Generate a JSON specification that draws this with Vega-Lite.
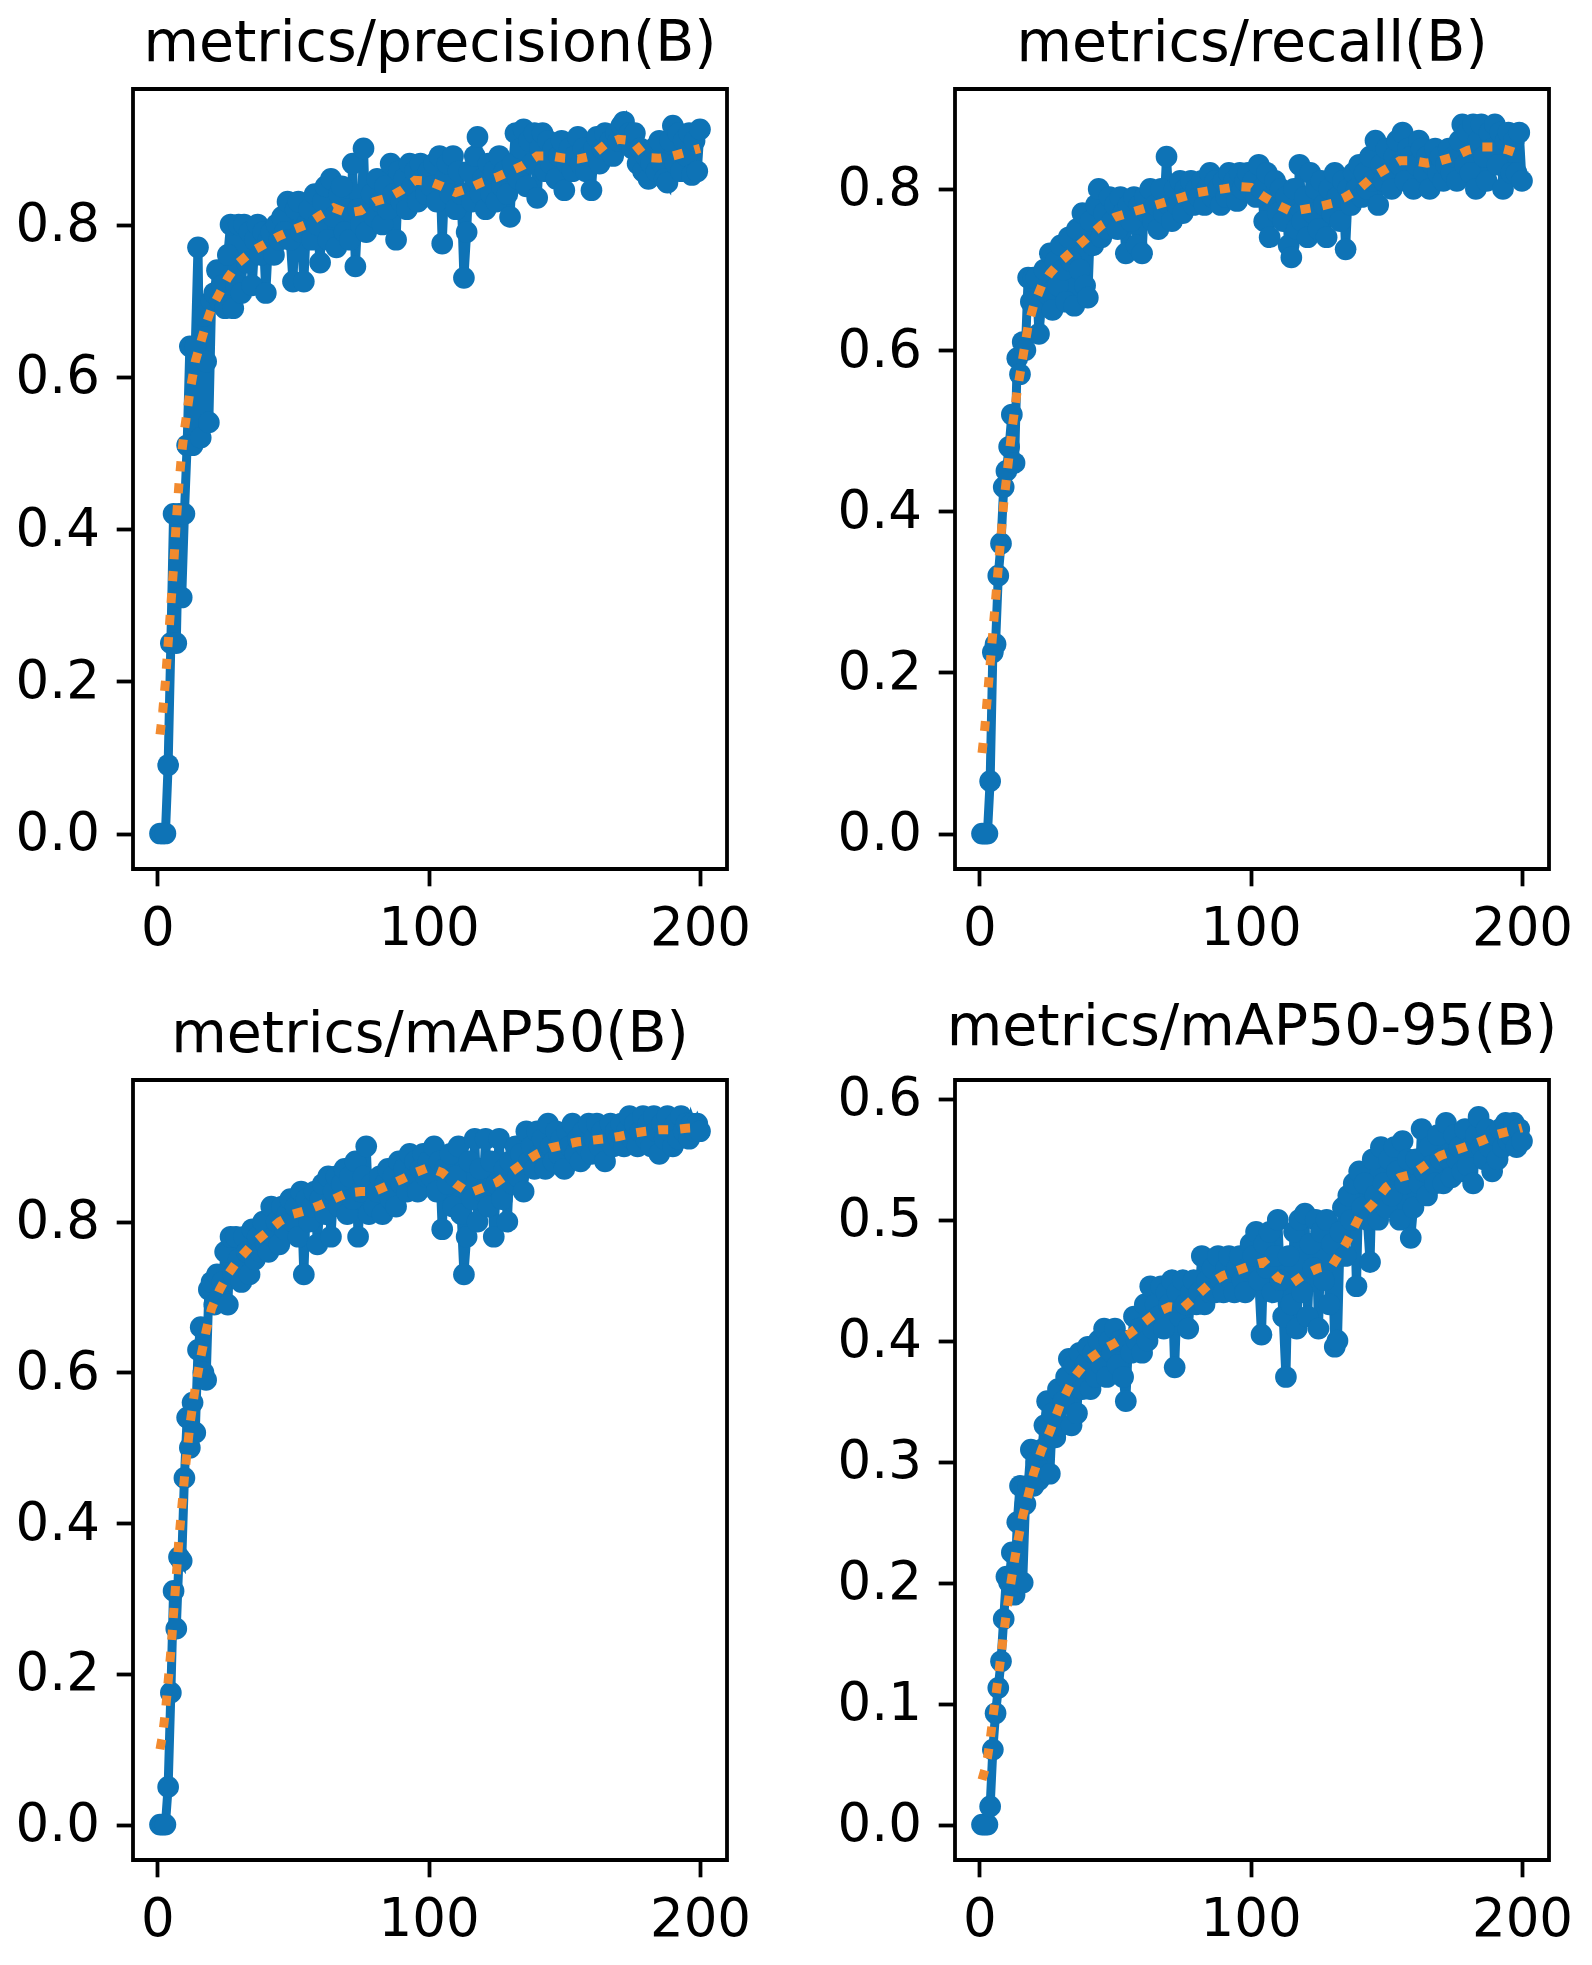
{
  "$schema": "https://vega.github.io/schema/vega-lite/v6.json",
  "description": "Training metrics (precision, recall, mAP50, mAP50-95) per epoch with smoothed curve",
  "padding": {"left": 13, "top": 13, "right": 5, "bottom": 5},
  "columns": 2,
  "spacing": {"row": 211, "column": 228},
  "bounds": "flush",
  "resolve": {"scale": {"x": "independent", "y": "independent"}},
  "datasets": {
    "res": [
      {"e":1,"p":0,"r":0,"a":0,"b":0},
      {"e":2,"p":0,"r":0,"a":0,"b":0},
      {"e":3,"p":0,"r":0,"a":0,"b":0},
      {"e":4,"p":0.09,"r":0.065,"a":0.05,"b":0.015},
      {"e":5,"p":0.25,"r":0.225,"a":0.175,"b":0.062},
      {"e":6,"p":0.42,"r":0.235,"a":0.31,"b":0.092},
      {"e":7,"p":0.25,"r":0.32,"a":0.26,"b":0.113},
      {"e":8,"p":0.42,"r":0.36,"a":0.355,"b":0.135},
      {"e":9,"p":0.31,"r":0.43,"a":0.35,"b":0.17},
      {"e":10,"p":0.42,"r":0.45,"a":0.46,"b":0.205},
      {"e":11,"p":0.51,"r":0.48,"a":0.54,"b":0.2},
      {"e":12,"p":0.64,"r":0.52,"a":0.5,"b":0.225},
      {"e":13,"p":0.51,"r":0.46,"a":0.56,"b":0.19},
      {"e":14,"p":0.64,"r":0.59,"a":0.52,"b":0.25},
      {"e":15,"p":0.77,"r":0.57,"a":0.63,"b":0.28},
      {"e":16,"p":0.52,"r":0.61,"a":0.66,"b":0.2},
      {"e":17,"p":0.68,"r":0.6,"a":0.6,"b":0.265},
      {"e":18,"p":0.62,"r":0.69,"a":0.59,"b":0.28},
      {"e":19,"p":0.54,"r":0.66,"a":0.71,"b":0.31},
      {"e":20,"p":0.7,"r":0.69,"a":0.72,"b":0.28},
      {"e":21,"p":0.71,"r":0.69,"a":0.69,"b":0.3},
      {"e":22,"p":0.74,"r":0.62,"a":0.73,"b":0.285},
      {"e":23,"p":0.7,"r":0.66,"a":0.7,"b":0.31},
      {"e":24,"p":0.72,"r":0.7,"a":0.72,"b":0.33},
      {"e":25,"p":0.69,"r":0.67,"a":0.76,"b":0.35},
      {"e":26,"p":0.76,"r":0.72,"a":0.69,"b":0.29},
      {"e":27,"p":0.8,"r":0.65,"a":0.78,"b":0.34},
      {"e":28,"p":0.69,"r":0.71,"a":0.73,"b":0.32},
      {"e":29,"p":0.72,"r":0.68,"a":0.78,"b":0.36},
      {"e":30,"p":0.8,"r":0.73,"a":0.75,"b":0.33},
      {"e":31,"p":0.71,"r":0.7,"a":0.72,"b":0.35},
      {"e":32,"p":0.8,"r":0.66,"a":0.78,"b":0.37},
      {"e":33,"p":0.75,"r":0.74,"a":0.76,"b":0.385},
      {"e":34,"p":0.79,"r":0.71,"a":0.73,"b":0.33},
      {"e":35,"p":0.72,"r":0.655,"a":0.79,"b":0.38},
      {"e":36,"p":0.78,"r":0.75,"a":0.75,"b":0.34},
      {"e":37,"p":0.8,"r":0.7,"a":0.78,"b":0.39},
      {"e":38,"p":0.76,"r":0.77,"a":0.76,"b":0.36},
      {"e":39,"p":0.79,"r":0.68,"a":0.8,"b":0.38},
      {"e":40,"p":0.71,"r":0.665,"a":0.77,"b":0.395},
      {"e":41,"p":0.78,"r":0.76,"a":0.76,"b":0.36},
      {"e":42,"p":0.79,"r":0.73,"a":0.82,"b":0.39},
      {"e":43,"p":0.76,"r":0.78,"a":0.78,"b":0.37},
      {"e":44,"p":0.8,"r":0.8,"a":0.8,"b":0.4},
      {"e":45,"p":0.78,"r":0.74,"a":0.77,"b":0.38},
      {"e":46,"p":0.81,"r":0.77,"a":0.82,"b":0.41},
      {"e":47,"p":0.79,"r":0.75,"a":0.79,"b":0.37},
      {"e":48,"p":0.83,"r":0.79,"a":0.81,"b":0.4},
      {"e":49,"p":0.78,"r":0.76,"a":0.83,"b":0.39},
      {"e":50,"p":0.725,"r":0.78,"a":0.8,"b":0.41},
      {"e":51,"p":0.82,"r":0.75,"a":0.82,"b":0.38},
      {"e":52,"p":0.83,"r":0.79,"a":0.78,"b":0.4},
      {"e":53,"p":0.79,"r":0.77,"a":0.84,"b":0.37},
      {"e":54,"p":0.725,"r":0.72,"a":0.73,"b":0.35},
      {"e":55,"p":0.8,"r":0.78,"a":0.83,"b":0.4},
      {"e":56,"p":0.82,"r":0.76,"a":0.8,"b":0.39},
      {"e":57,"p":0.78,"r":0.79,"a":0.82,"b":0.42},
      {"e":58,"p":0.84,"r":0.73,"a":0.84,"b":0.4},
      {"e":59,"p":0.8,"r":0.78,"a":0.77,"b":0.41},
      {"e":60,"p":0.75,"r":0.72,"a":0.83,"b":0.39},
      {"e":61,"p":0.83,"r":0.79,"a":0.85,"b":0.43},
      {"e":62,"p":0.85,"r":0.77,"a":0.81,"b":0.4},
      {"e":63,"p":0.78,"r":0.8,"a":0.86,"b":0.445},
      {"e":64,"p":0.86,"r":0.76,"a":0.78,"b":0.41},
      {"e":65,"p":0.81,"r":0.78,"a":0.84,"b":0.43},
      {"e":66,"p":0.77,"r":0.75,"a":0.86,"b":0.42},
      {"e":67,"p":0.84,"r":0.8,"a":0.82,"b":0.445},
      {"e":68,"p":0.85,"r":0.77,"a":0.85,"b":0.41},
      {"e":69,"p":0.79,"r":0.84,"a":0.87,"b":0.44},
      {"e":70,"p":0.82,"r":0.78,"a":0.81,"b":0.43},
      {"e":71,"p":0.78,"r":0.76,"a":0.86,"b":0.45},
      {"e":72,"p":0.88,"r":0.8,"a":0.83,"b":0.378},
      {"e":73,"p":0.745,"r":0.78,"a":0.88,"b":0.44},
      {"e":74,"p":0.82,"r":0.81,"a":0.78,"b":0.42},
      {"e":75,"p":0.8,"r":0.77,"a":0.84,"b":0.45},
      {"e":76,"p":0.9,"r":0.8,"a":0.86,"b":0.43},
      {"e":77,"p":0.79,"r":0.79,"a":0.9,"b":0.41},
      {"e":78,"p":0.82,"r":0.81,"a":0.81,"b":0.44},
      {"e":79,"p":0.84,"r":0.78,"a":0.85,"b":0.45},
      {"e":80,"p":0.81,"r":0.8,"a":0.82,"b":0.43},
      {"e":81,"p":0.86,"r":0.79,"a":0.84,"b":0.44},
      {"e":82,"p":0.83,"r":0.81,"a":0.86,"b":0.47},
      {"e":83,"p":0.8,"r":0.78,"a":0.81,"b":0.43},
      {"e":84,"p":0.85,"r":0.8,"a":0.85,"b":0.45},
      {"e":85,"p":0.82,"r":0.82,"a":0.87,"b":0.44},
      {"e":86,"p":0.88,"r":0.79,"a":0.83,"b":0.46},
      {"e":87,"p":0.84,"r":0.81,"a":0.86,"b":0.44},
      {"e":88,"p":0.78,"r":0.8,"a":0.82,"b":0.47},
      {"e":89,"p":0.87,"r":0.78,"a":0.88,"b":0.45},
      {"e":90,"p":0.83,"r":0.81,"a":0.85,"b":0.44},
      {"e":91,"p":0.86,"r":0.79,"a":0.87,"b":0.46},
      {"e":92,"p":0.82,"r":0.82,"a":0.84,"b":0.47},
      {"e":93,"p":0.88,"r":0.8,"a":0.89,"b":0.45},
      {"e":94,"p":0.85,"r":0.81,"a":0.86,"b":0.44},
      {"e":95,"p":0.87,"r":0.785,"a":0.88,"b":0.46},
      {"e":96,"p":0.83,"r":0.82,"a":0.84,"b":0.47},
      {"e":97,"p":0.88,"r":0.8,"a":0.87,"b":0.45},
      {"e":98,"p":0.86,"r":0.81,"a":0.89,"b":0.44},
      {"e":99,"p":0.84,"r":0.82,"a":0.86,"b":0.46},
      {"e":100,"p":0.87,"r":0.8,"a":0.88,"b":0.48},
      {"e":101,"p":0.85,"r":0.81,"a":0.86,"b":0.47},
      {"e":102,"p":0.88,"r":0.79,"a":0.9,"b":0.49},
      {"e":103,"p":0.83,"r":0.83,"a":0.84,"b":0.45},
      {"e":104,"p":0.89,"r":0.8,"a":0.88,"b":0.405},
      {"e":105,"p":0.775,"r":0.76,"a":0.79,"b":0.48},
      {"e":106,"p":0.86,"r":0.82,"a":0.87,"b":0.46},
      {"e":107,"p":0.88,"r":0.74,"a":0.85,"b":0.49},
      {"e":108,"p":0.84,"r":0.79,"a":0.89,"b":0.44},
      {"e":109,"p":0.89,"r":0.81,"a":0.82,"b":0.47},
      {"e":110,"p":0.82,"r":0.77,"a":0.86,"b":0.5},
      {"e":111,"p":0.87,"r":0.8,"a":0.9,"b":0.45},
      {"e":112,"p":0.84,"r":0.76,"a":0.81,"b":0.42},
      {"e":113,"p":0.73,"r":0.79,"a":0.73,"b":0.37},
      {"e":114,"p":0.79,"r":0.73,"a":0.78,"b":0.47},
      {"e":115,"p":0.87,"r":0.715,"a":0.88,"b":0.43},
      {"e":116,"p":0.83,"r":0.8,"a":0.83,"b":0.49},
      {"e":117,"p":0.89,"r":0.75,"a":0.91,"b":0.41},
      {"e":118,"p":0.915,"r":0.83,"a":0.8,"b":0.5},
      {"e":119,"p":0.84,"r":0.76,"a":0.87,"b":0.44},
      {"e":120,"p":0.86,"r":0.79,"a":0.84,"b":0.505},
      {"e":121,"p":0.82,"r":0.74,"a":0.91,"b":0.42},
      {"e":122,"p":0.88,"r":0.82,"a":0.82,"b":0.48},
      {"e":123,"p":0.84,"r":0.77,"a":0.88,"b":0.46},
      {"e":124,"p":0.87,"r":0.8,"a":0.78,"b":0.5},
      {"e":125,"p":0.83,"r":0.75,"a":0.85,"b":0.41},
      {"e":126,"p":0.89,"r":0.81,"a":0.91,"b":0.49},
      {"e":127,"p":0.85,"r":0.78,"a":0.83,"b":0.45},
      {"e":128,"p":0.87,"r":0.74,"a":0.87,"b":0.5},
      {"e":129,"p":0.84,"r":0.8,"a":0.8,"b":0.43},
      {"e":130,"p":0.81,"r":0.77,"a":0.88,"b":0.48},
      {"e":131,"p":0.88,"r":0.82,"a":0.85,"b":0.395},
      {"e":132,"p":0.92,"r":0.79,"a":0.9,"b":0.4},
      {"e":133,"p":0.86,"r":0.76,"a":0.86,"b":0.49},
      {"e":134,"p":0.9,"r":0.81,"a":0.89,"b":0.51},
      {"e":135,"p":0.925,"r":0.725,"a":0.84,"b":0.47},
      {"e":136,"p":0.85,"r":0.8,"a":0.92,"b":0.52},
      {"e":137,"p":0.91,"r":0.78,"a":0.88,"b":0.5},
      {"e":138,"p":0.88,"r":0.82,"a":0.9,"b":0.53},
      {"e":139,"p":0.92,"r":0.8,"a":0.87,"b":0.445},
      {"e":140,"p":0.835,"r":0.83,"a":0.92,"b":0.54},
      {"e":141,"p":0.9,"r":0.79,"a":0.89,"b":0.51},
      {"e":142,"p":0.92,"r":0.82,"a":0.91,"b":0.53},
      {"e":143,"p":0.87,"r":0.8,"a":0.87,"b":0.5},
      {"e":144,"p":0.91,"r":0.84,"a":0.93,"b":0.465},
      {"e":145,"p":0.88,"r":0.81,"a":0.9,"b":0.55},
      {"e":146,"p":0.9,"r":0.86,"a":0.88,"b":0.52},
      {"e":147,"p":0.86,"r":0.78,"a":0.92,"b":0.5},
      {"e":148,"p":0.89,"r":0.83,"a":0.89,"b":0.56},
      {"e":149,"p":0.91,"r":0.81,"a":0.91,"b":0.53},
      {"e":150,"p":0.845,"r":0.85,"a":0.87,"b":0.51},
      {"e":151,"p":0.88,"r":0.82,"a":0.92,"b":0.55},
      {"e":152,"p":0.9,"r":0.8,"a":0.9,"b":0.52},
      {"e":153,"p":0.87,"r":0.84,"a":0.93,"b":0.56},
      {"e":154,"p":0.89,"r":0.86,"a":0.89,"b":0.54},
      {"e":155,"p":0.915,"r":0.83,"a":0.91,"b":0.5},
      {"e":156,"p":0.88,"r":0.87,"a":0.88,"b":0.565},
      {"e":157,"p":0.9,"r":0.81,"a":0.92,"b":0.53},
      {"e":158,"p":0.87,"r":0.85,"a":0.9,"b":0.55},
      {"e":159,"p":0.89,"r":0.84,"a":0.93,"b":0.485},
      {"e":160,"p":0.845,"r":0.8,"a":0.89,"b":0.51},
      {"e":161,"p":0.9,"r":0.83,"a":0.91,"b":0.55},
      {"e":162,"p":0.915,"r":0.86,"a":0.93,"b":0.53},
      {"e":163,"p":0.88,"r":0.85,"a":0.9,"b":0.575},
      {"e":164,"p":0.9,"r":0.82,"a":0.92,"b":0.54},
      {"e":165,"p":0.92,"r":0.84,"a":0.88,"b":0.52},
      {"e":166,"p":0.9,"r":0.8,"a":0.91,"b":0.56},
      {"e":167,"p":0.91,"r":0.83,"a":0.93,"b":0.545},
      {"e":168,"p":0.89,"r":0.85,"a":0.9,"b":0.53},
      {"e":169,"p":0.92,"r":0.82,"a":0.92,"b":0.57},
      {"e":170,"p":0.91,"r":0.84,"a":0.91,"b":0.55},
      {"e":171,"p":0.93,"r":0.81,"a":0.93,"b":0.53},
      {"e":172,"p":0.935,"r":0.83,"a":0.9,"b":0.58},
      {"e":173,"p":0.91,"r":0.85,"a":0.92,"b":0.55},
      {"e":174,"p":0.92,"r":0.82,"a":0.94,"b":0.535},
      {"e":175,"p":0.9,"r":0.84,"a":0.91,"b":0.57},
      {"e":176,"p":0.92,"r":0.81,"a":0.93,"b":0.55},
      {"e":177,"p":0.88,"r":0.86,"a":0.9,"b":0.56},
      {"e":178,"p":0.9,"r":0.88,"a":0.92,"b":0.54},
      {"e":179,"p":0.87,"r":0.83,"a":0.94,"b":0.575},
      {"e":180,"p":0.89,"r":0.87,"a":0.91,"b":0.545},
      {"e":181,"p":0.86,"r":0.82,"a":0.93,"b":0.56},
      {"e":182,"p":0.88,"r":0.88,"a":0.9,"b":0.53},
      {"e":183,"p":0.9,"r":0.8,"a":0.94,"b":0.57},
      {"e":184,"p":0.87,"r":0.86,"a":0.92,"b":0.585},
      {"e":185,"p":0.91,"r":0.88,"a":0.89,"b":0.56},
      {"e":186,"p":0.88,"r":0.84,"a":0.93,"b":0.55},
      {"e":187,"p":0.86,"r":0.81,"a":0.91,"b":0.575},
      {"e":188,"p":0.855,"r":0.87,"a":0.94,"b":0.56},
      {"e":189,"p":0.91,"r":0.85,"a":0.92,"b":0.54},
      {"e":190,"p":0.93,"r":0.88,"a":0.9,"b":0.57},
      {"e":191,"p":0.88,"r":0.83,"a":0.93,"b":0.55},
      {"e":192,"p":0.92,"r":0.87,"a":0.91,"b":0.575},
      {"e":193,"p":0.87,"r":0.8,"a":0.94,"b":0.56},
      {"e":194,"p":0.91,"r":0.86,"a":0.92,"b":0.58},
      {"e":195,"p":0.89,"r":0.87,"a":0.93,"b":0.565},
      {"e":196,"p":0.92,"r":0.82,"a":0.91,"b":0.57},
      {"e":197,"p":0.865,"r":0.86,"a":0.93,"b":0.58},
      {"e":198,"p":0.91,"r":0.82,"a":0.92,"b":0.56},
      {"e":199,"p":0.87,"r":0.87,"a":0.93,"b":0.575},
      {"e":200,"p":0.925,"r":0.81,"a":0.92,"b":0.565}
    ],
    "smooth": [
      {"e":1,"p":0.13,"r":0.1,"a":0.1,"b":0.037},
      {"e":2,"p":0.16,"r":0.13,"a":0.12,"b":0.045},
      {"e":3,"p":0.2,"r":0.17,"a":0.15,"b":0.055},
      {"e":4,"p":0.25,"r":0.21,"a":0.19,"b":0.07},
      {"e":5,"p":0.3,"r":0.25,"a":0.23,"b":0.088},
      {"e":6,"p":0.35,"r":0.29,"a":0.28,"b":0.105},
      {"e":7,"p":0.41,"r":0.33,"a":0.33,"b":0.122},
      {"e":8,"p":0.46,"r":0.37,"a":0.38,"b":0.14},
      {"e":9,"p":0.5,"r":0.41,"a":0.42,"b":0.158},
      {"e":10,"p":0.53,"r":0.44,"a":0.46,"b":0.175},
      {"e":12,"p":0.58,"r":0.5,"a":0.53,"b":0.205},
      {"e":14,"p":0.62,"r":0.55,"a":0.58,"b":0.232},
      {"e":16,"p":0.645,"r":0.59,"a":0.62,"b":0.255},
      {"e":18,"p":0.67,"r":0.63,"a":0.655,"b":0.272},
      {"e":20,"p":0.69,"r":0.655,"a":0.685,"b":0.29},
      {"e":23,"p":0.71,"r":0.68,"a":0.71,"b":0.31},
      {"e":26,"p":0.73,"r":0.695,"a":0.73,"b":0.325},
      {"e":30,"p":0.75,"r":0.71,"a":0.75,"b":0.348},
      {"e":35,"p":0.765,"r":0.725,"a":0.77,"b":0.37},
      {"e":40,"p":0.775,"r":0.74,"a":0.785,"b":0.384},
      {"e":45,"p":0.785,"r":0.755,"a":0.8,"b":0.392},
      {"e":50,"p":0.793,"r":0.765,"a":0.81,"b":0.398},
      {"e":55,"p":0.8,"r":0.77,"a":0.815,"b":0.405},
      {"e":60,"p":0.812,"r":0.775,"a":0.822,"b":0.414},
      {"e":65,"p":0.822,"r":0.78,"a":0.83,"b":0.423},
      {"e":70,"p":0.815,"r":0.785,"a":0.838,"b":0.428},
      {"e":75,"p":0.818,"r":0.79,"a":0.84,"b":0.427},
      {"e":80,"p":0.83,"r":0.795,"a":0.84,"b":0.437},
      {"e":85,"p":0.835,"r":0.798,"a":0.848,"b":0.447},
      {"e":90,"p":0.845,"r":0.8,"a":0.856,"b":0.454},
      {"e":95,"p":0.858,"r":0.803,"a":0.865,"b":0.458},
      {"e":100,"p":0.857,"r":0.802,"a":0.872,"b":0.462},
      {"e":105,"p":0.85,"r":0.79,"a":0.865,"b":0.465},
      {"e":110,"p":0.842,"r":0.78,"a":0.85,"b":0.452},
      {"e":115,"p":0.848,"r":0.772,"a":0.838,"b":0.447},
      {"e":120,"p":0.856,"r":0.775,"a":0.845,"b":0.455},
      {"e":125,"p":0.862,"r":0.778,"a":0.852,"b":0.46},
      {"e":130,"p":0.87,"r":0.782,"a":0.865,"b":0.462},
      {"e":135,"p":0.878,"r":0.79,"a":0.878,"b":0.48},
      {"e":140,"p":0.89,"r":0.8,"a":0.89,"b":0.502},
      {"e":145,"p":0.89,"r":0.815,"a":0.898,"b":0.513},
      {"e":150,"p":0.887,"r":0.825,"a":0.902,"b":0.527},
      {"e":155,"p":0.886,"r":0.835,"a":0.906,"b":0.535},
      {"e":160,"p":0.89,"r":0.835,"a":0.908,"b":0.538},
      {"e":165,"p":0.905,"r":0.832,"a":0.91,"b":0.546},
      {"e":170,"p":0.912,"r":0.835,"a":0.913,"b":0.553},
      {"e":175,"p":0.91,"r":0.84,"a":0.917,"b":0.557},
      {"e":180,"p":0.888,"r":0.848,"a":0.92,"b":0.561},
      {"e":185,"p":0.887,"r":0.852,"a":0.922,"b":0.565},
      {"e":190,"p":0.89,"r":0.852,"a":0.922,"b":0.57},
      {"e":195,"p":0.895,"r":0.848,"a":0.924,"b":0.573},
      {"e":200,"p":0.9,"r":0.842,"a":0.925,"b":0.576}
    ]
  },
  "concat": [
    {
      "width": 594,
      "height": 780,
      "title": {"text": "metrics/precision(B)"},
      "layer": [
        {
          "data": {"name": "res"},
          "mark": {"type": "line", "color": "#0e73b6", "strokeWidth": 9, "clip": true},
          "encoding": {
            "x": {"field": "e", "type": "quantitative", "title": null, "scale": {"domain": [-8.95, 209.95], "nice": false, "zero": false}, "axis": {"values": [0, 100, 200], "format": "d"}},
            "y": {"field": "p", "type": "quantitative", "title": null, "scale": {"domain": [-0.0466, 0.978], "nice": false, "zero": false}, "axis": {"values": [0, 0.2, 0.4, 0.6, 0.8], "format": ".1f"}}
          }
        },
        {
          "data": {"name": "res"},
          "mark": {"type": "point", "shape": "circle", "filled": true, "opacity": 1, "size": 470, "color": "#0e73b6", "clip": true},
          "encoding": {
            "x": {"field": "e", "type": "quantitative", "title": null},
            "y": {"field": "p", "type": "quantitative", "title": null}
          }
        },
        {
          "data": {"name": "smooth"},
          "mark": {"type": "line", "color": "#f28a2e", "strokeWidth": 9, "strokeDash": [10, 12], "strokeCap": "butt", "clip": true},
          "encoding": {
            "x": {"field": "e", "type": "quantitative", "title": null},
            "y": {"field": "p", "type": "quantitative", "title": null}
          }
        }
      ]
    },
    {
      "width": 594,
      "height": 780,
      "title": {"text": "metrics/recall(B)"},
      "layer": [
        {
          "data": {"name": "res"},
          "mark": {"type": "line", "color": "#0e73b6", "strokeWidth": 9, "clip": true},
          "encoding": {
            "x": {"field": "e", "type": "quantitative", "title": null, "scale": {"domain": [-8.95, 209.95], "nice": false, "zero": false}, "axis": {"values": [0, 100, 200], "format": "d"}},
            "y": {"field": "r", "type": "quantitative", "title": null, "scale": {"domain": [-0.044, 0.924], "nice": false, "zero": false}, "axis": {"values": [0, 0.2, 0.4, 0.6, 0.8], "format": ".1f"}}
          }
        },
        {
          "data": {"name": "res"},
          "mark": {"type": "point", "shape": "circle", "filled": true, "opacity": 1, "size": 470, "color": "#0e73b6", "clip": true},
          "encoding": {
            "x": {"field": "e", "type": "quantitative", "title": null},
            "y": {"field": "r", "type": "quantitative", "title": null}
          }
        },
        {
          "data": {"name": "smooth"},
          "mark": {"type": "line", "color": "#f28a2e", "strokeWidth": 9, "strokeDash": [10, 12], "strokeCap": "butt", "clip": true},
          "encoding": {
            "x": {"field": "e", "type": "quantitative", "title": null},
            "y": {"field": "r", "type": "quantitative", "title": null}
          }
        }
      ]
    },
    {
      "width": 594,
      "height": 780,
      "title": {"text": "metrics/mAP50(B)"},
      "layer": [
        {
          "data": {"name": "res"},
          "mark": {"type": "line", "color": "#0e73b6", "strokeWidth": 9, "clip": true},
          "encoding": {
            "x": {"field": "e", "type": "quantitative", "title": null, "scale": {"domain": [-8.95, 209.95], "nice": false, "zero": false}, "axis": {"values": [0, 100, 200], "format": "d"}},
            "y": {"field": "a", "type": "quantitative", "title": null, "scale": {"domain": [-0.047, 0.988], "nice": false, "zero": false}, "axis": {"values": [0, 0.2, 0.4, 0.6, 0.8], "format": ".1f"}}
          }
        },
        {
          "data": {"name": "res"},
          "mark": {"type": "point", "shape": "circle", "filled": true, "opacity": 1, "size": 470, "color": "#0e73b6", "clip": true},
          "encoding": {
            "x": {"field": "e", "type": "quantitative", "title": null},
            "y": {"field": "a", "type": "quantitative", "title": null}
          }
        },
        {
          "data": {"name": "smooth"},
          "mark": {"type": "line", "color": "#f28a2e", "strokeWidth": 9, "strokeDash": [10, 12], "strokeCap": "butt", "clip": true},
          "encoding": {
            "x": {"field": "e", "type": "quantitative", "title": null},
            "y": {"field": "a", "type": "quantitative", "title": null}
          }
        }
      ]
    },
    {
      "width": 594,
      "height": 780,
      "title": {"text": "metrics/mAP50-95(B)"},
      "layer": [
        {
          "data": {"name": "res"},
          "mark": {"type": "line", "color": "#0e73b6", "strokeWidth": 9, "clip": true},
          "encoding": {
            "x": {"field": "e", "type": "quantitative", "title": null, "scale": {"domain": [-8.95, 209.95], "nice": false, "zero": false}, "axis": {"values": [0, 100, 200], "format": "d"}},
            "y": {"field": "b", "type": "quantitative", "title": null, "scale": {"domain": [-0.0293, 0.6155], "nice": false, "zero": false}, "axis": {"values": [0, 0.1, 0.2, 0.3, 0.4, 0.5, 0.6], "format": ".1f"}}
          }
        },
        {
          "data": {"name": "res"},
          "mark": {"type": "point", "shape": "circle", "filled": true, "opacity": 1, "size": 470, "color": "#0e73b6", "clip": true},
          "encoding": {
            "x": {"field": "e", "type": "quantitative", "title": null},
            "y": {"field": "b", "type": "quantitative", "title": null}
          }
        },
        {
          "data": {"name": "smooth"},
          "mark": {"type": "line", "color": "#f28a2e", "strokeWidth": 9, "strokeDash": [10, 12], "strokeCap": "butt", "clip": true},
          "encoding": {
            "x": {"field": "e", "type": "quantitative", "title": null},
            "y": {"field": "b", "type": "quantitative", "title": null}
          }
        }
      ]
    }
  ],
  "config": {
    "background": "white",
    "font": "DejaVu Sans",
    "view": {"stroke": "black", "strokeWidth": 3.8},
    "axis": {
      "grid": false,
      "domain": false,
      "ticks": true,
      "tickColor": "black",
      "tickWidth": 3.8,
      "tickSize": 16.8,
      "labelFont": "DejaVu Sans",
      "labelFontSize": 53,
      "labelColor": "black",
      "labelPadding": 16.8,
      "labelFlush": false,
      "labelOverlap": false,
      "labelBound": false
    },
    "title": {
      "font": "DejaVu Sans",
      "fontSize": 57,
      "fontWeight": "normal",
      "color": "black",
      "anchor": "middle",
      "frame": "group",
      "baseline": "alphabetic",
      "offset": 16
    }
  }
}
